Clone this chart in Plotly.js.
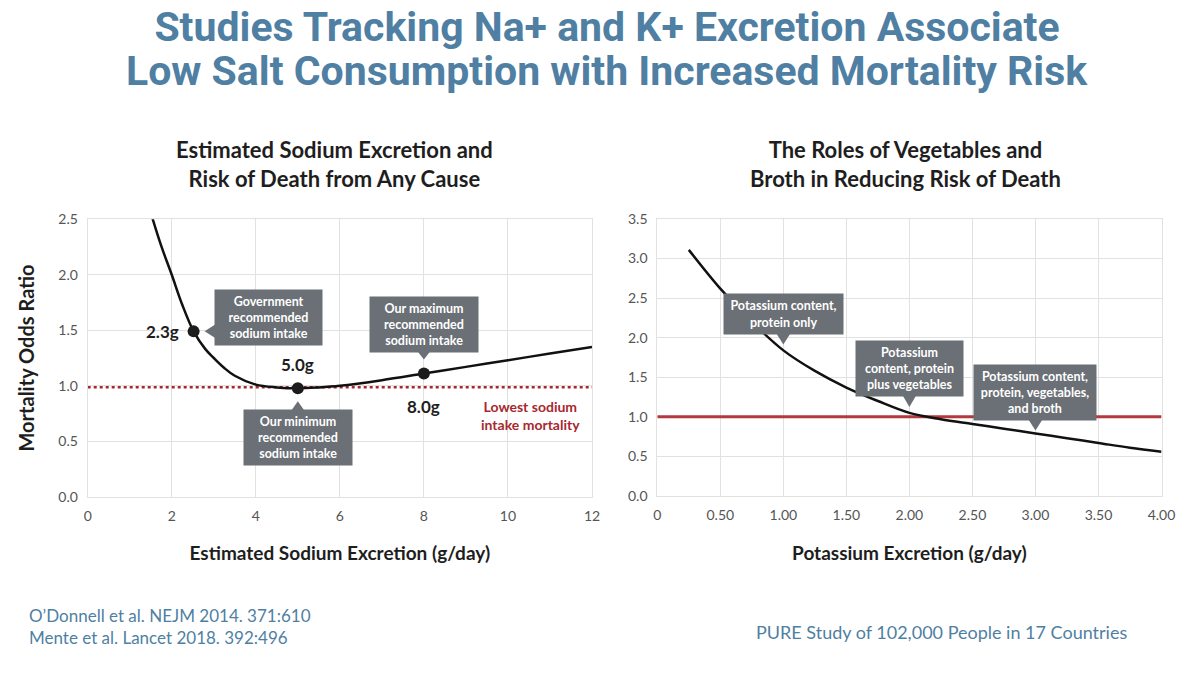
<!DOCTYPE html>
<html><head><meta charset="utf-8">
<script src="https://cdn.plot.ly/plotly-3.0.1.min.js"></script>
<style>html,body{margin:0;padding:0;background:#fff}</style>
</head><body><div id="chart" style="width:1200px;height:675px"></div>
<script>
// ---- Data ----
const sodiumX        = [1.5, 1.75, 2.0, 2.25, 2.52, 2.8, 3.0, 3.25, 3.5, 4.0, 4.5, 5.0, 5.5, 6.0, 7.0, 8.0, 9.0, 10.0, 11.0, 12.0];
const sodiumOdds     = [2.56, 2.26, 2.0, 1.73, 1.49, 1.33, 1.25, 1.16, 1.09, 1.01, 0.985, 0.977, 0.985, 1.0, 1.05, 1.11, 1.17, 1.23, 1.29, 1.35];
const sodiumMarkX    = [2.52, 5.0, 8.0];
const sodiumMarkY    = [1.49, 0.977, 1.11];
const sodiumMarkText = ["2.3g", "5.0g", "8.0g"];
const lowestMortality = 0.986;
const sodiumXTicks   = [0, 2, 4, 6, 8, 10, 12];
const oddsTicks1     = [0, 0.5, 1.0, 1.5, 2.0, 2.5];

const potassiumX     = [0.25, 0.5, 0.75, 1.0, 1.25, 1.5, 1.75, 2.0, 2.25, 2.5, 2.75, 3.0, 3.25, 3.5, 3.75, 4.0];
const potassiumOdds  = [3.11, 2.62, 2.2, 1.84, 1.58, 1.37, 1.2, 1.05, 0.97, 0.91, 0.85, 0.79, 0.73, 0.67, 0.61, 0.56];
const potassiumRef   = 1.0;
const potassiumXTicks = [0, 0.5, 1.0, 1.5, 2.0, 2.5, 3.0, 3.5, 4.0];
const potassiumXTickText = ["0", "0.50", "1.00", "1.50", "2.00", "2.50", "3.00", "3.50", "4.00"];
const oddsTicks2     = [0, 0.5, 1.0, 1.5, 2.0, 2.5, 3.0, 3.5];
const potassiumCalloutX = [1.0, 2.0, 3.0];
const potassiumCalloutText = [
  "Potassium content,<br>protein only",
  "Potassium<br>content, protein<br>plus vegetables",
  "Potassium content,<br>protein, vegetables,<br>and broth"
];
const sodiumCalloutText = [
  "Government<br>recommended<br>sodium intake",
  "Our minimum<br>recommended<br>sodium intake",
  "Our maximum<br>recommended<br>sodium intake"
];

// ---- Styles ----
const BLUE = '#4f7fa3';
const DARK = '#1e1e1e';
const BOX = '#6b7076';
const RED = '#a8282e';
const GRID = '#e1e1e1';
const F = 'Lato, "Open Sans", sans-serif';
const TF = 'Roboto, "Liberation Sans", sans-serif';

const traces = [
  {x: [0, 12], y: [lowestMortality, lowestMortality], xaxis: 'x', yaxis: 'y', mode: 'lines',
   line: {color: RED, width: 2.5, dash: 'dot'}, hoverinfo: 'skip'},
  {x: sodiumX, y: sodiumOdds, xaxis: 'x', yaxis: 'y', mode: 'lines',
   line: {color: '#111', width: 2.5, shape: 'spline', smoothing: 1}},
  {x: sodiumMarkX, y: sodiumMarkY, xaxis: 'x', yaxis: 'y', mode: 'markers',
   marker: {color: '#1c1c1c', size: 12}},
  {x: [0, 4], y: [potassiumRef, potassiumRef], xaxis: 'x2', yaxis: 'y2', mode: 'lines',
   line: {color: '#b3393e', width: 3}, hoverinfo: 'skip'},
  {x: potassiumX, y: potassiumOdds, xaxis: 'x2', yaxis: 'y2', mode: 'lines',
   line: {color: '#111', width: 2.5, shape: 'spline', smoothing: 1}}
];

function kY(x) { return potassiumOdds[potassiumX.indexOf(x)]; }

const annotations = [];
const shapes = [];

// mark labels
const markShift = [{xs: -31, ys: 0}, {xs: 0, ys: 24}, {xs: 0, ys: -33}];
sodiumMarkX.forEach((x, i) => {
  annotations.push({xref: 'x', yref: 'y', x: x, y: sodiumMarkY[i], text: sodiumMarkText[i], showarrow: false,
    xshift: markShift[i].xs, yshift: markShift[i].ys, xanchor: 'center', yanchor: 'middle',
    font: {family: F, size: 17, color: DARK, weight: 700}});
});

// sodium callout boxes
const sodiumBox = [
  {xs: 75, ys: 14, w: 103, h: 51, tri: 'M11,0 L22,7 L22,-7 Z'},
  {xs: 0, ys: -49, w: 104, h: 51, tri: 'M0,-13 L-7,-23 L7,-23 Z'},
  {xs: 0, ys: 49.5, w: 104, h: 51, tri: 'M0,14 L-7,23 L7,23 Z'}
];
sodiumMarkX.forEach((x, i) => {
  const b = sodiumBox[i];
  annotations.push({xref: 'x', yref: 'y', x: x, y: sodiumMarkY[i], text: sodiumCalloutText[i], showarrow: false,
    xshift: b.xs, yshift: b.ys, xanchor: 'center', yanchor: 'middle', width: b.w, height: b.h,
    bgcolor: BOX, borderpad: 2, align: 'center', valign: 'middle',
    font: {family: F, size: 12.5, color: '#fff', weight: 700}});
  shapes.push({type: 'path', xref: 'x', yref: 'y', xsizemode: 'pixel', ysizemode: 'pixel',
    xanchor: x, yanchor: sodiumMarkY[i], path: b.tri, fillcolor: BOX, line: {width: 0}, layer: 'above'});
});

// potassium callout boxes
const potBox = [
  {ys: 36, w: 115, h: 36, tri: 'M0,6 L-7,17 L7,17 Z'},
  {ys: 44, w: 103, h: 51, tri: 'M0,6 L-7,18 L7,18 Z'},
  {ys: 41, w: 118, h: 51, tri: 'M0,3 L-7,14 L7,14 Z'}
];
potassiumCalloutX.forEach((x, i) => {
  const b = potBox[i];
  annotations.push({xref: 'x2', yref: 'y2', x: x, y: kY(x), text: potassiumCalloutText[i], showarrow: false,
    yshift: b.ys, xanchor: 'center', yanchor: 'middle', width: b.w, height: b.h,
    bgcolor: BOX, borderpad: 2, align: 'center', valign: 'middle',
    font: {family: F, size: 12.5, color: '#fff', weight: 700}});
  shapes.push({type: 'path', xref: 'x2', yref: 'y2', xsizemode: 'pixel', ysizemode: 'pixel',
    xanchor: x, yanchor: kY(x), path: b.tri, fillcolor: BOX, line: {width: 0}, layer: 'above'});
});

// lowest mortality label
annotations.push({xref: 'x', yref: 'y', x: 12, y: lowestMortality, text: 'Lowest sodium<br>intake mortality',
  showarrow: false, xanchor: 'right', yanchor: 'top', xshift: -10, yshift: -9, align: 'center',
  font: {family: F, size: 14, color: RED, weight: 700}});

// subplot titles
annotations.push({xref: 'paper', yref: 'paper', x: 334 / 1200, y: 1 - 164 / 675, xanchor: 'center', yanchor: 'middle',
  text: 'Estimated Sodium Excretion and<br>Risk of Death from Any Cause', showarrow: false,
  font: {family: F, size: 22, color: DARK, weight: 700}});
annotations.push({xref: 'paper', yref: 'paper', x: 905 / 1200, y: 1 - 164 / 675, xanchor: 'center', yanchor: 'middle',
  text: 'The Roles of Vegetables and<br>Broth in Reducing Risk of Death', showarrow: false,
  font: {family: F, size: 22, color: DARK, weight: 700}});

// main title second line
annotations.push({xref: 'paper', yref: 'paper', x: 607 / 1200, y: 1 - 71 / 675, xanchor: 'center', yanchor: 'middle',
  text: 'Low Salt Consumption with Increased Mortality Risk', showarrow: false,
  font: {family: TF, size: 41, color: BLUE, weight: 700}});

// footers
annotations.push({xref: 'paper', yref: 'paper', x: 27 / 1200, y: 1 - 626 / 675, xanchor: 'left', yanchor: 'middle',
  text: 'O\u2019Donnell et al. NEJM 2014. 371:610<br>Mente et al. Lancet 2018. 392:496', showarrow: false, align: 'left',
  font: {family: F, size: 17, color: BLUE}});
annotations.push({xref: 'paper', yref: 'paper', x: 941 / 1200, y: 1 - 632 / 675, xanchor: 'center', yanchor: 'middle',
  text: 'PURE Study of 102,000 People in 17 Countries', showarrow: false,
  font: {family: F, size: 18, color: BLUE}});

const axisCommon = {showgrid: true, gridcolor: GRID, gridwidth: 1, zeroline: false, showline: true, mirror: true,
  linecolor: GRID, linewidth: 1, ticks: '', ticklabelstandoff: 6, tickfont: {family: F, size: 14, color: '#555'}, fixedrange: true};

const layout = {
  width: 1200, height: 675,
  margin: {l: 0, r: 0, t: 0, b: 0},
  paper_bgcolor: '#fff', plot_bgcolor: '#fff',
  showlegend: false,
  title: {text: 'Studies Tracking Na+ and K+ Excretion Associate', x: 607 / 1200, xanchor: 'center',
    y: 1 - 27 / 675, yanchor: 'middle',
    font: {family: TF, size: 41, color: BLUE, weight: 700}},
  xaxis: Object.assign({}, axisCommon, {domain: [87.7 / 1200, 592 / 1200], range: [0, 12], tickvals: sodiumXTicks,
    anchor: 'y',
    title: {text: 'Estimated Sodium Excretion (g/day)', standoff: 24, font: {family: F, size: 19, color: DARK, weight: 700}}}),
  yaxis: Object.assign({}, axisCommon, {domain: [178.3 / 675, 455.7 / 675], range: [0, 2.5], tickvals: oddsTicks1,
    tickformat: '.1f', anchor: 'x',
    title: {text: 'Mortality Odds Ratio', standoff: 18, font: {family: F, size: 20, color: DARK, weight: 700}}}),
  xaxis2: Object.assign({}, axisCommon, {domain: [657.3 / 1200, 1161.5 / 1200], range: [0, 4], tickvals: potassiumXTicks,
    ticktext: potassiumXTickText, anchor: 'y2',
    title: {text: 'Potassium Excretion (g/day)', standoff: 24, font: {family: F, size: 19, color: DARK, weight: 700}}}),
  yaxis2: Object.assign({}, axisCommon, {domain: [179 / 675, 456 / 675], range: [0, 3.5], tickvals: oddsTicks2,
    tickformat: '.1f', anchor: 'x2'}),
  annotations: annotations,
  shapes: shapes
};

Plotly.newPlot('chart', traces, layout, {displayModeBar: false, staticPlot: true});
</script></body></html>
